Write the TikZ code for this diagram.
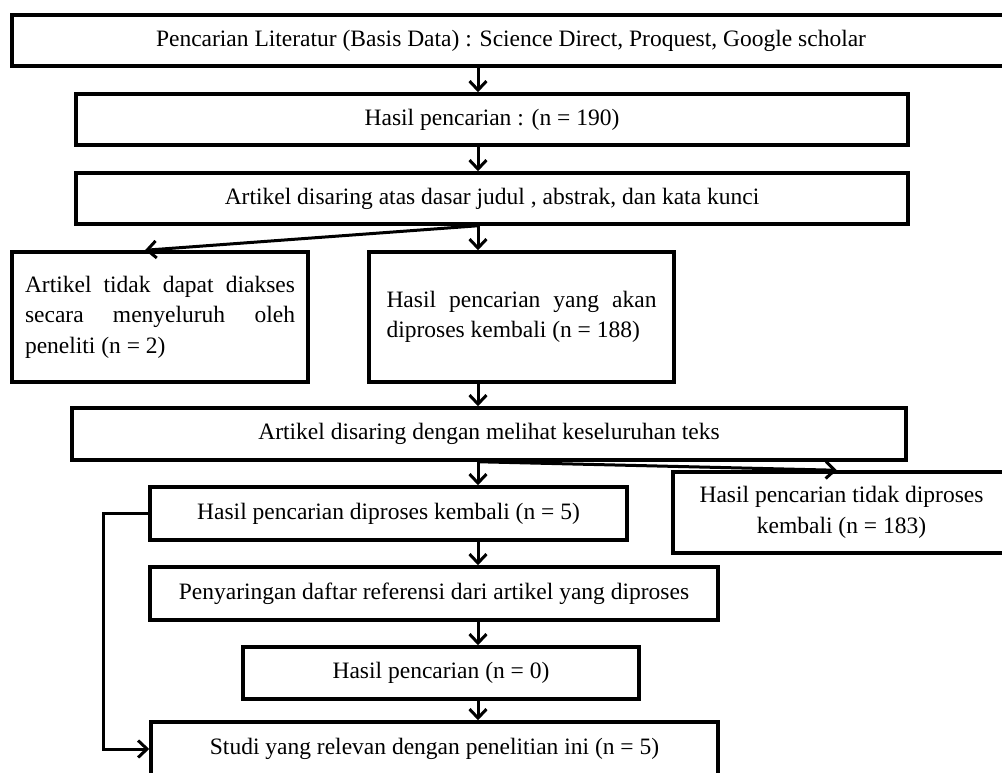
\documentclass[tikz,border=0pt]{standalone}
\usepackage{fontspec}
\setmainfont{Liberation Serif}
\usetikzlibrary{arrows.meta}
\hyphenpenalty=10000
\exhyphenpenalty=10000
\begin{document}
\begin{tikzpicture}[x=1pt,y=-1pt,
  box/.style={draw=black, line width=3.5pt, fill=white, inner sep=0pt,
    font=\fontsize{23.5}{30.5}\selectfont},
  arr/.style={draw=black, line width=3pt, -{Straight Barb[length=9pt,width=17pt]}}
]
\clip (0,0) rectangle (1002,772);
\fill[white] (0,0) rectangle (1002,772);

\node[box, minimum width=998, minimum height=51] (b1) at (511,40.5)
  {Pencarian Literatur (Basis Data) : Science Direct, Proquest, Google scholar};
\node[box, minimum width=832, minimum height=51] (b2) at (492,119.5)
  {Hasil pencarian : (n = 190)};
\node[box, minimum width=832, minimum height=51] (b3) at (492,198.5)
  {Artikel disaring atas dasar judul , abstrak, dan kata kunci};
\node[box, minimum width=296, minimum height=130, text width=270, align=justify] (b4) at (160,317)
  {Artikel tidak dapat diakses secara menyeluruh oleh peneliti (n = 2)\par\vspace*{12pt}};
\node[box, minimum width=305, minimum height=130, text width=270, align=justify] (b5) at (521.5,317)
  {Hasil pencarian yang akan diproses kembali (n = 188)};
\node[box, minimum width=834, minimum height=52] (b6) at (489,434)
  {Artikel disaring dengan melihat keseluruhan teks};
\node[box, minimum width=337, minimum height=81, align=center] (b7) at (841.5,512.5)
  {Hasil pencarian tidak diproses\\kembali (n = 183)};
\node[box, minimum width=477, minimum height=53] (b8) at (388.5,513.5)
  {Hasil pencarian diproses kembali (n = 5)};
\node[box, minimum width=568, minimum height=53] (b9) at (434,593.5)
  {Penyaringan daftar referensi dari artikel yang diproses};
\node[box, minimum width=396, minimum height=52] (b10) at (441,673)
  {Hasil pencarian (n = 0)};
\node[box, minimum width=567, minimum height=54] (b11) at (434.5,749)
  {Studi yang relevan dengan penelitian ini (n = 5)};

\coordinate (ax) at (478,0);
\coordinate (dx) at (145,0);
\coordinate (ex) at (837,0);
\coordinate (lx) at (103,0);

\draw[arr] (b1.south -| ax) -- (b2.north -| ax);
\draw[arr] (b2.south -| ax) -- (b3.north -| ax);
\draw[arr] (b3.south -| ax) -- (b5.north -| ax);
\draw[arr] (b3.south -| ax) -- (b4.north -| dx);
\draw[arr] (b5.south -| ax) -- (b6.north -| ax);
\draw[arr] (b6.south -| ax) -- (b8.north -| ax);
\draw[arr] (b6.south -| ax) -- (b7.north -| ex);
\draw[arr] (b8.south -| ax) -- (b9.north -| ax);
\draw[arr] (b9.south -| ax) -- (b10.north -| ax);
\draw[arr] (b10.south -| ax) -- (b11.north -| ax);
\draw[arr] (b8.west) -- (b8.west -| lx) -- (b11.west -| lx) -- (b11.west);
\end{tikzpicture}
\end{document}
